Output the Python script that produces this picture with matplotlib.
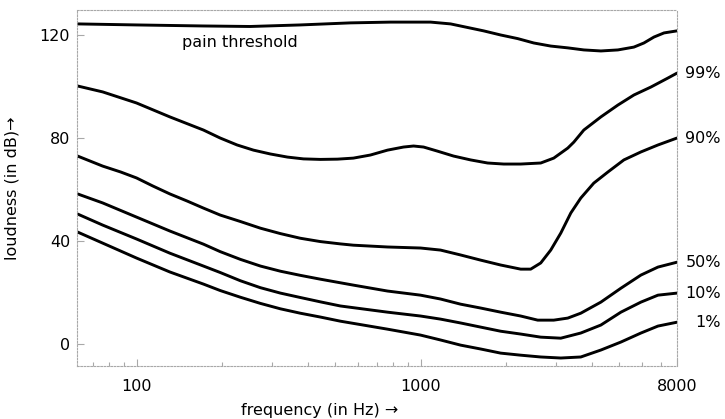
import numpy as np
import matplotlib
matplotlib.use('Agg')
import matplotlib.pyplot as plt
from matplotlib.ticker import FixedLocator, LogLocator, NullFormatter


# values (frequency in Hz, loudness in dB)
PAIN_FREQ = [62, 100, 172, 251, 377, 566, 784, 1085, 1276, 1668, 1915, 2198,
             2504, 2874, 3300, 3758, 4316, 4954, 5640, 6118, 6636, 7200, 8000]
PAIN_DB = [124.3, 123.9, 123.5, 123.3, 123.9, 124.7, 125.0, 125.0, 124.3,
           121.6, 120.0, 118.6, 116.9, 115.7, 115.0, 114.2, 113.8, 114.2,
           115.3, 116.9, 119.2, 120.8, 121.6]

F99 = [62, 76, 100, 131, 172, 197, 226, 258, 296, 340, 387, 444, 510, 580,
       666, 765, 871, 945, 1025, 1148, 1307, 1501, 1723, 1963, 2253, 2650,
       2945, 3300, 3465, 3758, 4316, 4954, 5640, 6476, 7436, 8000]
D99 = [100.2, 97.9, 93.6, 88.2, 83.1, 80.0, 77.3, 75.3, 73.8, 72.6, 71.9,
       71.7, 71.8, 72.2, 73.4, 75.3, 76.5, 76.9, 76.5, 74.9, 73.0, 71.5, 70.3,
       69.9, 69.9, 70.3, 72.2, 76.1, 78.4, 83.1, 88.2, 92.8, 96.7, 99.8,
       103.3, 105.2]

F90 = [62, 76, 88, 100, 114, 131, 151, 172, 197, 232, 273, 321, 377, 444,
       522, 580, 765, 1000, 1176, 1384, 1628, 1915, 2253, 2443, 2650, 2874,
       3118, 3382, 3667, 4074, 4567, 5200, 5971, 6855, 8000]
D90 = [73.0, 69.1, 66.8, 64.5, 61.4, 58.3, 55.5, 52.8, 50.1, 47.6, 45.0,
       42.9, 41.1, 39.8, 38.9, 38.4, 37.7, 37.3, 36.5, 34.6, 32.6, 30.7, 29.1,
       29.1, 31.5, 36.5, 43.1, 50.9, 56.7, 62.5, 66.8, 71.5, 74.6, 77.3, 80.0]

F50 = [62, 76, 100, 131, 172, 197, 232, 273, 321, 377, 444, 580, 765, 1000,
       1176, 1384, 1628, 1915, 2253, 2586, 2945, 3300, 3667, 4316, 5077,
       5971, 6855, 8000]
D50 = [58.3, 54.8, 49.3, 43.9, 38.8, 35.9, 32.9, 30.3, 28.3, 26.7, 25.2,
       22.9, 20.6, 19.0, 17.5, 15.5, 14.0, 12.4, 10.9, 9.3, 9.3, 10.1, 12.0,
       16.3, 21.7, 26.8, 29.9, 31.8]

F10 = [62, 76, 100, 131, 172, 197, 232, 273, 321, 377, 444, 522, 765, 1000,
       1176, 1384, 1628, 1915, 2253, 2650, 3118, 3667, 4316, 5077, 5971,
       6855, 8000]
D10 = [50.5, 46.2, 40.8, 35.3, 30.3, 27.8, 24.6, 21.9, 19.8, 18.1, 16.4,
       14.8, 12.4, 10.9, 9.7, 8.2, 6.6, 5.0, 3.9, 2.7, 2.3, 4.3, 7.4, 12.4,
       16.3, 19.0, 19.8]

F1 = [62, 76, 100, 131, 172, 197, 232, 273, 321, 377, 444, 522, 765, 1000,
      1176, 1384, 1628, 1915, 2253, 2650, 3118, 3667, 4316, 5077, 5971,
      6855, 8000]
D1 = [43.5, 39.2, 33.4, 28.0, 23.3, 20.8, 18.2, 15.8, 13.7, 12.0, 10.5,
      8.9, 5.8, 3.5, 1.6, -0.4, -1.9, -3.5, -4.3, -5.0, -5.4, -5.0, -2.3,
      0.8, 4.3, 7.0, 8.5]

CURVE_LABELS = ['99%', '90%', '50%', '10%', '1%']
X_TICKS = [100, 1000, 8000]
Y_TICKS = [0, 40, 80, 120]

FONT = ['DejaVu Sans']
FONT_SIZE = 11.5
FRAME_COLOR = '#a8a8a8'


def main():
    plt.rcParams['font.family'] = FONT
    plt.rcParams['font.size'] = FONT_SIZE

    fig = plt.figure(figsize=(7.25, 4.19), dpi=100)
    ax = fig.add_axes([77 / 725, 53 / 419, 600 / 725, 356 / 419])

    curves = [(PAIN_FREQ, PAIN_DB), (F99, D99), (F90, D90),
              (F50, D50), (F10, D10), (F1, D1)]
    for freq, db in curves:
        ax.plot(freq, db, color='black', lw=2.1,
                solid_capstyle='round', solid_joinstyle='round')

    ax.set_xscale('log')
    ax.set_xlim(61.7, 8000)
    ax.set_ylim(-8.5, 129.7)

    ax.xaxis.set_major_locator(FixedLocator(X_TICKS))
    ax.set_xticklabels([str(t) for t in X_TICKS])
    ax.xaxis.set_minor_locator(LogLocator(base=10, subs=np.arange(2, 10)))
    ax.xaxis.set_minor_formatter(NullFormatter())
    ax.set_yticks(Y_TICKS)

    ax.tick_params(axis='both', which='both', direction='in',
                   color=FRAME_COLOR, width=0.8)
    ax.tick_params(axis='both', which='major', length=5,
                   labelsize=FONT_SIZE)
    ax.tick_params(axis='x', which='major', pad=9)
    ax.tick_params(axis='y', which='major', pad=5)
    ax.tick_params(axis='x', which='minor', length=3)

    for side in ['left', 'right', 'top', 'bottom']:
        ax.spines[side].set_color(FRAME_COLOR)
        ax.spines[side].set_linestyle((0, (1.5, 1.5)))
        ax.spines[side].set_linewidth(0.8)

    ax.text(144, 117.0, 'pain threshold', ha='left', va='center')

    trans = ax.get_yaxis_transform()
    ends = [D99[-1], D90[-1], D50[-1], D10[-1], D1[-1]]
    for label, y in zip(CURVE_LABELS, ends):
        ax.text(1.073, y, label, transform=trans, ha='right', va='center',
                clip_on=False)

    ax.set_xlabel('frequency (in Hz) \u2192')
    ax.xaxis.set_label_coords(0.405, -0.105)
    ax.set_ylabel('loudness (in dB)\u2192')
    ax.yaxis.set_label_coords(-0.095, 0.5)

    fig.savefig('out.png', dpi=100)


if __name__ == '__main__':
    main()
